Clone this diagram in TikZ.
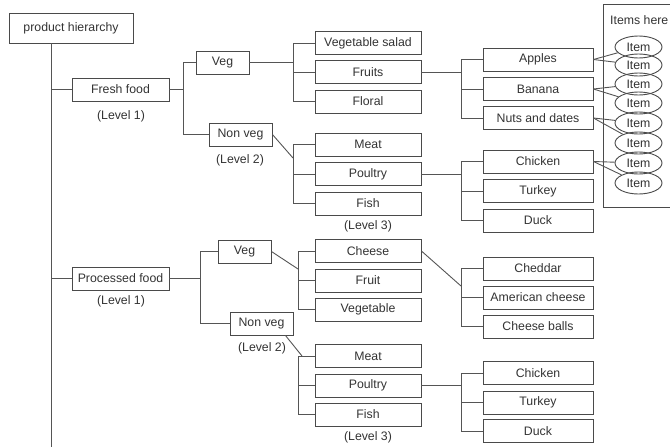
\documentclass[tikz,border=0pt]{standalone}
\usepackage{fontspec}
\setmainfont{Liberation Sans}
\usetikzlibrary{shapes.geometric}
\definecolor{txt}{HTML}{333333}
\definecolor{edge}{HTML}{4A4A4A}
\definecolor{wire}{HTML}{555555}
\begin{document}
\begin{tikzpicture}[x=1pt,y=-1pt,
  every node/.style={font=\fontsize{12.3}{14}\selectfont, text=txt},
  catbox/.style={draw=edge, line width=0.9pt, inner sep=0pt, minimum height=23pt},
  lvlbox/.style={catbox, minimum width=106pt},
  leafbox/.style={catbox, minimum width=110pt},
  lvl/.style={inner sep=0pt},
  link/.style={draw=wire, line width=0.9pt},
  item/.style={ellipse, draw=edge, line width=0.9pt, minimum width=47pt, minimum height=22pt, inner sep=0pt}
]
\useasboundingbox (0,0) rectangle (670,447);
\clip (0,0) rectangle (670,447);

% junction columns
\coordinate (trunk) at (51,447);
\coordinate (jf) at (183,0);
\coordinate (jp) at (200,0);
\coordinate (ja) at (293,0);
\coordinate (jb) at (298,0);
\coordinate (jc) at (461,0);

% root and level 1
\node[catbox, minimum width=124pt, minimum height=30pt] (root) at (71,28) {product hierarchy};
\node[catbox, minimum width=97pt] (fresh) at (120.5,89.5) {Fresh food};
\node[lvl] (l1a) at (121,116) {(Level 1)};
\node[catbox, minimum width=97pt] (proc) at (120.5,278.5) {Processed food};
\node[lvl] (l1b) at (121,301) {(Level 1)};

% level 2
\node[catbox, minimum width=53pt] (veg1) at (222.5,62.5) {Veg};
\node[catbox, minimum width=63pt] (nveg1) at (240.5,134.5) {Non veg};
\node[lvl] (l2a) at (240,160) {(Level 2)};
\node[catbox, minimum width=53pt] (veg2) at (244.5,251.5) {Veg};
\node[catbox, minimum width=63pt] (nveg2) at (261.5,323.5) {Non veg};
\node[lvl] (l2b) at (262,348) {(Level 2)};

% level 3
\node[lvlbox] (salad) at (368,43) {Vegetable salad};
\node[lvlbox] (fruits) at (368,72) {Fruits};
\node[lvlbox] (floral) at (368,101.5) {Floral};
\node[lvlbox] (meat1) at (368,144.5) {Meat};
\node[lvlbox] (poul1) at (368,174) {Poultry};
\node[lvlbox] (fish1) at (368,203.5) {Fish};
\node[lvl] (l3a) at (368,226) {(Level 3)};
\node[lvlbox] (cheese) at (368,251) {Cheese};
\node[lvlbox] (fruit2) at (368,280.5) {Fruit};
\node[lvlbox] (vegtb) at (368,309.5) {Vegetable};
\node[lvlbox] (meat2) at (368,356) {Meat};
\node[lvlbox] (poul2) at (368,385.5) {Poultry};
\node[lvlbox] (fish2) at (368,414.5) {Fish};
\node[lvl] (l3b) at (368,437) {(Level 3)};

% level 4
\node[leafbox] (apples) at (538,59.5) {Apples};
\node[leafbox] (banana) at (538,89) {Banana};
\node[leafbox] (nuts) at (538,118) {Nuts and dates};
\node[leafbox] (chick1) at (538,161.5) {Chicken};
\node[leafbox] (turk1) at (538,191) {Turkey};
\node[leafbox] (duck1) at (538,220.5) {Duck};
\node[leafbox] (cheddar) at (538,268.5) {Cheddar};
\node[leafbox] (amer) at (538,297.5) {American cheese};
\node[leafbox] (balls) at (538,326.5) {Cheese balls};
\node[leafbox] (chick2) at (538,373) {Chicken};
\node[leafbox] (turk2) at (538,402.5) {Turkey};
\node[leafbox] (duck2) at (538,431) {Duck};

% item panel
\draw[edge, line width=0.9pt] (680,4) -| (603,207) -- (680,207);
\node[anchor=west, inner sep=0pt] (ihere) at (610,20) {Items here};
\foreach \i/\y in {1/47,2/65,3/84,4/103,5/123,6/143,7/163,8/183}
  \node[item] (it\i) at (638.5,\y) {Item};

% trunk
\draw[link] (root.south -| trunk) -- (trunk);
\draw[link] (fresh.west -| trunk) -- (fresh.west);
\draw[link] (proc.west -| trunk) -- (proc.west);

% fresh food branch
\draw[link] (fresh.east) -- (fresh.east -| jf);
\draw[link] (veg1.west) -| (jf |- nveg1.west) -- (nveg1.west);
\draw[link] (veg1.east) -- (veg1.east -| ja);
\draw[link] (salad.west) -| (ja |- floral.west) -- (floral.west);
\draw[link] (fruits.west) -- (fruits.west -| ja);
\coordinate (nv1tip) at (293,158);
\draw[link] (nveg1.east) -- (nv1tip);
\draw[link] (meat1.west) -| (ja |- fish1.west) -- (fish1.west);
\draw[link] (poul1.west) -- (poul1.west -| ja);
\draw[link] (fruits.east) -- (fruits.east -| jc);
\draw[link] (apples.west) -| (jc |- nuts.west) -- (nuts.west);
\draw[link] (banana.west) -- (banana.west -| jc);
\draw[link] (poul1.east) -- (poul1.east -| jc);
\draw[link] (chick1.west) -| (jc |- duck1.west) -- (duck1.west);
\draw[link] (turk1.west) -- (turk1.west -| jc);

% items
\draw[link] (apples.east) -- (it1);
\draw[link] (apples.east) -- (it2);
\draw[link] (banana.east) -- (it3);
\draw[link] (banana.east) -- (it4);
\draw[link] (nuts.east) -- (it5);
\draw[link] (nuts.east) -- (it6);
\draw[link] (chick1.east) -- (it7);
\draw[link] (chick1.east) -- (it8);

% processed food branch
\draw[link] (proc.east) -- (proc.east -| jp);
\draw[link] (veg2.west) -| (jp |- nveg2.west) -- (nveg2.west);
\coordinate (v2tip) at (298,269);
\draw[link] (veg2.east) -- (v2tip);
\draw[link] (cheese.west) -| (jb |- vegtb.west) -- (vegtb.west);
\draw[link] (fruit2.west) -- (fruit2.west -| jb);
\coordinate (nv2tip) at (302,356);
\draw[link] ([xshift=-8pt]nveg2.south east) -- (nv2tip);
\draw[link] (meat2.west) -| (jb |- fish2.west) -- (fish2.west);
\draw[link] (poul2.west) -- (poul2.west -| jb);
\coordinate (chtip) at (461,286);
\draw[link] (cheese.east) -- (chtip);
\draw[link] (cheddar.west) -| (jc |- balls.west) -- (balls.west);
\draw[link] (amer.west) -- (amer.west -| jc);
\draw[link] (poul2.east) -- (poul2.east -| jc);
\draw[link] (chick2.west) -| (jc |- duck2.west) -- (duck2.west);
\draw[link] (turk2.west) -- (turk2.west -| jc);
\end{tikzpicture}
\end{document}
